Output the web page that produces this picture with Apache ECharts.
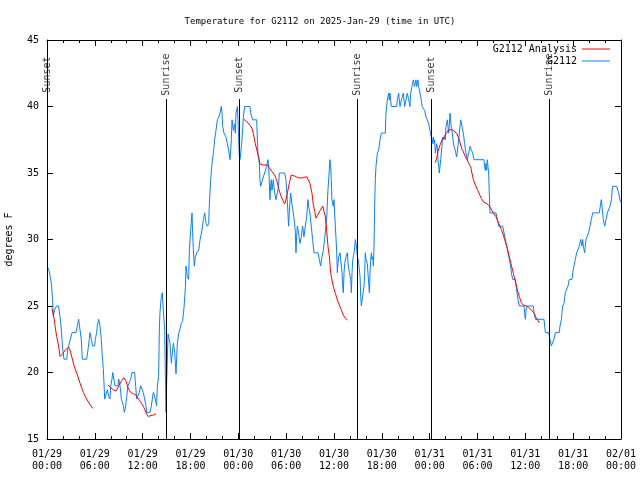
<!DOCTYPE html>
<html><head><meta charset="utf-8">
<script src="https://cdn.jsdelivr.net/npm/echarts@6/dist/echarts.min.js"></script>
<style>html,body{margin:0;padding:0;background:#fff}#c{width:640px;height:480px}</style>
</head><body><div id="c"></div>
<script>
// ---- data (hours since 2025-01-29 00:00 UTC, degrees F) ----
const titleText = 'Temperature for G2112 on 2025-Jan-29 (time in UTC)';
const xTickLabels = ['01/29\n00:00','01/29\n06:00','01/29\n12:00','01/29\n18:00','01/30\n00:00','01/30\n06:00','01/30\n12:00','01/30\n18:00','01/31\n00:00','01/31\n06:00','01/31\n12:00','01/31\n18:00','02/01\n00:00'];
const yTicks = [15,20,25,30,35,40,45];
const sunNames = ['Sunset','Sunrise','Sunset','Sunrise','Sunset','Sunrise'];
const sunTimes = [0.08,14.93,24.12,38.93,48.2,62.98];

const g2112 = [[0.0,28],[0.25,27.7],[0.4,27.2],[0.55,26.7],[0.7,25.5],[0.79,24.2],[0.95,24.7],[1.2,25],[1.46,25],[1.63,24.2],[1.76,23.5],[1.88,22.5],[1.97,21.7],[2.13,21],[2.47,21],[2.6,21.7],[2.72,22],[2.97,22],[3.14,23],[3.64,23],[3.8,23.5],[3.97,24],[4.14,23.2],[4.3,22.5],[4.43,21],[4.97,21],[5.14,21.7],[5.3,22.5],[5.39,23],[5.56,22.5],[5.72,22],[5.98,22],[6.06,22.5],[6.23,23],[6.31,23.5],[6.48,24],[6.65,23.5],[6.81,22.5],[6.9,21.5],[7.07,20.2],[7.19,18.7],[7.23,18],[7.48,18],[7.57,18.7],[7.73,18.2],[7.9,18],[7.99,19],[8.15,19.5],[8.24,20],[8.4,20],[8.53,19],[8.9,19],[9.0,19.5],[9.16,19],[9.33,18],[9.49,18],[9.58,17.5],[9.7,17],[9.87,17.5],[10.0,18.2],[10.16,19],[10.33,19],[10.5,19.5],[10.66,20],[10.99,20],[11.12,19],[11.25,18],[11.42,18],[11.58,18.5],[11.75,19],[12.0,19],[12.08,18.5],[12.25,18],[12.42,17.5],[12.5,17],[12.92,17],[13.09,17.5],[13.21,18],[13.34,18.5],[13.42,18.6],[13.59,18],[13.75,17.5],[13.84,19],[14.0,19.7],[14.09,23.2],[14.17,24.5],[14.34,25.7],[14.46,26],[14.59,24.7],[14.76,23.2],[14.84,20],[14.93,17],[15.01,19.2],[15.18,22.9],[15.43,22.2],[15.6,20.7],[15.85,22.2],[16.02,21.5],[16.18,19.9],[16.35,22.2],[16.52,22.9],[16.77,22.9],[16.85,23.7],[17.02,23.9],[17.19,24.9],[17.36,26.4],[17.44,28.0],[17.6,27.2],[17.77,27.0],[17.86,29.2],[18.02,30.7],[18.19,32.0],[18.27,30.5],[18.36,29.2],[18.48,28.0],[18.61,28.7],[18.78,29.0],[19.03,29.2],[19.2,30.0],[19.45,30.7],[19.61,31.5],[19.78,32.0],[19.95,31.2],[20.12,31.0],[20.28,31.2],[20.37,32.7],[20.53,34.5],[20.7,35.7],[20.87,36.5],[21.03,37.5],[21.2,38.2],[21.37,39.0],[21.54,39.2],[21.7,39.5],[21.87,40.0],[21.95,39.5],[22.04,38.5],[22.2,38.0],[22.37,38.0],[22.46,37.7],[22.62,37.2],[22.79,36.7],[22.96,36.0],[23.12,37.5],[23.21,39.0],[23.38,38.2],[23.54,38.7],[23.62,38.0],[23.71,39.5],[23.88,40.0],[23.96,39.0],[24.04,37.5],[24.13,36.2],[24.21,36.0],[24.3,36.5],[24.46,37.5],[24.63,39.2],[24.8,40.0],[25.46,40],[25.55,39.5],[25.79,39],[26.3,39],[26.38,37.7],[26.46,36.5],[26.63,35.7],[26.71,34.5],[26.8,34],[27.05,34],[27.13,34.7],[27.3,35],[27.47,35],[27.55,35.5],[27.72,36],[27.8,35.5],[27.88,34.5],[27.97,33],[28.05,34],[28.14,34.5],[28.22,33.7],[28.39,34.5],[28.55,33.5],[28.72,33],[28.89,33.5],[29.05,34],[29.14,35],[29.81,35],[29.97,34.5],[30.14,33],[30.22,32],[30.31,31],[30.39,32],[30.56,33.5],[30.72,32.7],[30.89,32],[31.06,31.2],[31.15,30.5],[31.23,29],[31.31,30.2],[31.4,31],[31.56,30.5],[31.73,29.7],[31.9,30.2],[32.06,31],[32.23,30.2],[32.4,31],[32.57,31.7],[32.73,33],[32.82,32.5],[32.98,32],[33.15,31],[33.32,30],[33.49,29],[33.99,29],[34.16,28.5],[34.32,28],[34.49,28.7],[34.66,29.2],[34.82,30],[34.99,31],[35.07,31.5],[35.24,33.7],[35.41,35.2],[35.49,36],[35.58,35.5],[35.66,34.5],[35.74,33],[35.91,32.5],[36.0,33],[36.08,32],[36.17,31],[36.26,30],[36.34,29],[36.42,27.5],[36.5,28.2],[36.59,28.7],[36.76,29],[36.84,28.5],[37.01,27.5],[37.09,26.5],[37.17,26],[37.26,27.5],[37.34,28.2],[37.51,28.7],[37.68,29],[37.76,28.2],[37.93,27.5],[38.1,27],[38.18,26],[38.26,27.5],[38.35,28.5],[38.52,29],[38.68,30],[38.77,29.7],[38.85,29.2],[38.93,28.7],[39.02,28.5],[39.1,28.2],[39.27,27.2],[39.35,25.7],[39.43,25],[39.68,25],[39.77,26.5],[39.85,27.5],[39.93,29],[40.02,28.5],[40.18,28.2],[40.35,26.7],[40.44,26],[40.52,27.5],[40.6,28.5],[40.69,29],[40.77,28.5],[40.86,28.7],[40.94,28],[41.02,29.5],[41.1,32.5],[41.18,34.5],[41.27,35.5],[41.43,36.5],[41.6,36.7],[41.77,37.5],[41.94,38],[42.44,38],[42.52,39.5],[42.69,40.5],[42.86,41],[42.94,40.5],[43.02,41],[43.19,40],[43.86,40],[43.94,40.5],[44.11,41],[44.19,40.5],[44.28,40],[44.45,40.5],[44.7,41],[44.86,40],[45.03,40],[45.2,41],[45.37,40.5],[45.53,40],[45.62,41],[45.78,41.5],[45.95,42],[46.11,41.5],[46.28,42],[46.36,41.5],[46.53,42],[46.62,41.5],[46.79,41],[46.95,40.5],[47.04,40],[47.2,40],[47.37,39.7],[47.54,39.2],[47.7,39],[47.87,38.7],[48.04,38.2],[48.2,37.7],[48.29,37.2],[48.46,37.7],[48.54,37.2],[48.62,37.5],[48.71,36.5],[48.88,37.2],[48.96,37],[49.04,36],[49.13,35.5],[49.21,35],[49.3,35],[49.38,36],[49.54,37],[49.63,37.7],[49.8,37.5],[49.88,37.7],[49.96,37.5],[50.05,38.5],[50.13,38.7],[50.21,39],[50.3,38.5],[50.38,38],[50.46,38.5],[50.55,39.5],[50.63,39],[50.71,38.5],[50.8,38.2],[50.88,37.7],[51.05,37],[51.21,36.7],[51.38,36.2],[51.55,37],[51.72,38],[51.89,39],[52.05,39],[52.22,38],[52.39,37.2],[52.55,36.5],[52.72,36],[52.89,36.5],[53.06,37],[53.22,37],[53.39,36.5],[53.56,36],[54.81,36],[54.89,35.5],[54.98,35.2],[55.06,35.7],[55.14,35.2],[55.23,36],[55.31,35.5],[55.4,35],[55.48,33.5],[55.57,32],[56.32,32],[56.49,31.5],[56.66,31],[57.16,31],[57.33,30.5],[57.49,30],[57.66,29.5],[57.83,29],[58.0,28.5],[58.16,28],[58.25,27.5],[58.41,27],[58.75,27],[58.91,26.2],[59.08,25.5],[59.25,25],[59.83,25],[59.91,24.5],[60.0,24],[60.08,24.7],[60.25,25],[61.0,25],[61.09,24.5],[61.26,24],[62.34,24],[62.42,23.5],[62.51,23],[62.93,23],[63.09,22.5],[63.26,22],[63.51,22],[63.6,22.5],[63.76,23],[64.26,23],[64.35,23.5],[64.52,24],[64.6,24.5],[64.68,25],[64.85,25.2],[65.02,26],[65.27,26],[65.35,26.5],[65.52,27],[65.85,27],[65.94,27.5],[66.1,28],[66.27,28.5],[66.44,29],[66.69,29],[66.77,29.5],[66.94,30],[67.11,29.5],[67.19,30],[67.27,29.5],[67.44,29],[67.52,29.5],[67.61,30],[67.78,30],[67.94,30.5],[68.11,31],[68.28,31.5],[68.45,32],[69.28,32],[69.45,32.7],[69.53,33],[69.62,32.5],[69.78,31.5],[69.95,31],[70.12,31.5],[70.29,32],[70.54,32],[70.62,32.5],[70.79,33],[70.87,33.5],[70.95,34],[71.46,34],[71.7,33.5],[71.87,33],[72,32.8]];

const analysis1 = [[0.63,24.8],[0.88,24.1],[0.96,23.7],[1.21,22.7],[1.46,22.0],[1.63,21.2],[1.8,21.35],[1.96,21.4],[2.3,21.7],[2.72,21.9],[2.88,21.7],[3.14,21.1],[3.47,20.35],[3.8,19.85],[4.14,19.2],[4.56,18.5],[4.97,18.0],[5.39,17.6],[5.73,17.3]];
const analysis2 = [[7.65,19.08],[7.9,18.9],[8.32,18.7],[8.66,18.6],[8.99,18.97],[9.33,19.35],[9.66,19.6],[9.92,19.35],[10.16,18.85],[10.5,18.5],[10.83,18.4],[11.17,18.3],[11.5,18.0],[11.84,17.7],[12.17,17.35],[12.42,16.97],[12.67,16.7],[12.92,16.7],[13.34,16.8],[13.67,16.9]];
const analysis3 = [[24.71,39.03],[25.04,38.86],[25.46,38.6],[25.71,38.36],[25.88,37.98],[26.13,37.2],[26.38,36.6],[26.63,35.97],[26.71,35.67],[27.13,35.6],[27.63,35.6],[27.88,35.4],[28.22,35.1],[28.55,34.85],[28.8,34.47],[29.05,33.84],[29.31,33.34],[29.56,32.97],[29.81,32.67],[29.97,32.97],[30.14,33.47],[30.39,34.2],[30.64,34.85],[30.81,34.97],[31.06,34.77],[31.4,34.67],[31.73,34.62],[32.15,34.65],[32.57,34.72],[32.82,34.72],[32.98,34.22],[33.24,33.47],[33.41,32.6],[33.58,32.1],[33.75,31.6],[33.91,31.8],[34.25,32.17],[34.58,32.52],[34.75,32.6],[34.92,31.7],[35.08,30.7],[35.25,29.46],[35.42,28.7],[35.59,27.45],[35.75,26.95],[35.92,26.45],[36.17,25.95],[36.42,25.45],[36.67,25.07],[36.92,24.7],[37.17,24.32],[37.43,24.07],[37.68,23.95]];
const analysis4 = [[48.71,35.78],[48.88,36.1],[49.04,36.6],[49.3,37.1],[49.54,37.48],[49.88,37.79],[50.13,38.04],[50.38,38.24],[50.63,38.36],[50.88,38.24],[51.13,38.11],[51.38,37.99],[51.55,37.74],[51.72,37.48],[51.89,37.1],[52.05,36.78],[52.22,36.6],[52.47,36.23],[52.72,35.98],[52.89,35.73],[53.14,35.48],[53.31,34.98],[53.48,34.5],[53.73,34.1],[53.98,33.77],[54.23,33.42],[54.48,33.09],[54.73,32.84],[55.07,32.72],[55.4,32.59],[55.65,32.47],[55.99,32.0],[56.32,31.71],[56.66,31.21],[56.99,30.76],[57.24,30.33],[57.49,29.83],[57.74,29.33],[57.99,28.7],[58.24,28.08],[58.5,27.45],[58.75,26.83],[59.0,26.2],[59.25,25.7],[59.5,25.25],[59.75,25.07],[60.0,25.0],[60.34,24.95],[60.59,24.82],[60.84,24.64],[61.09,24.45],[61.34,24.14],[61.59,23.89],[61.76,23.74]];

// ---- chart ----
const FONT = 'DejaVu Sans Mono';
const analysis = [].concat(analysis1, [['-','-']], analysis2, [['-','-']], analysis3, [['-','-']], analysis4);
const sunLabelY = 42.4, sunLineTop = 40.56;

const xCommon = {
  type: 'value', min: 0, max: 72, interval: 6,
  axisLine: {show: true, onZero: false, lineStyle: {color: '#000', width: 1}},
  axisTick: {show: true, inside: true, length: 6, lineStyle: {color: '#000'}},
  minorTick: {show: true, splitNumber: 3, length: 3, lineStyle: {color: '#000'}},
  splitLine: {show: false}, minorSplitLine: {show: false}
};
const yCommon = {
  type: 'value', min: 15, max: 45, interval: 5,
  axisLine: {show: true, onZero: false, lineStyle: {color: '#000', width: 1}},
  axisTick: {show: true, inside: true, length: 6, lineStyle: {color: '#000'}},
  splitLine: {show: false}
};
const legendCommon = {right: 30, align: 'right', icon: 'rect', itemWidth: 28, itemHeight: 1, itemGap: 0, padding: 0,
  textStyle: {fontFamily: FONT, fontSize: 10, color: '#000'}};

const chart = echarts.init(document.getElementById('c'), null, {renderer: 'canvas'});
chart.setOption({
  animation: false,
  backgroundColor: '#fff',
  title: {text: titleText, left: 'center', top: 12,
    textStyle: {fontFamily: FONT, fontSize: 9, fontWeight: 'normal', color: '#000'}},
  grid: {left: 47, right: 19, top: 40, bottom: 41, containLabel: false, outerBoundsMode: 'none'},
  legend: [
    Object.assign({}, legendCommon, {data: ['G2112 Analysis'], top: 44}),
    Object.assign({}, legendCommon, {data: ['G2112'], top: 56})
  ],
  xAxis: [
    Object.assign({}, xCommon, {position: 'bottom',
      axisLabel: {show: true, margin: 9, lineHeight: 12, fontFamily: FONT, fontSize: 10, color: '#000',
        formatter: v => xTickLabels[Math.round(v / 6)] || ''}}),
    Object.assign({}, xCommon, {position: 'top', axisLabel: {show: false}})
  ],
  yAxis: [
    Object.assign({}, yCommon, {position: 'left', name: 'degrees F', nameLocation: 'middle', nameGap: 33, nameRotate: 90,
      nameTextStyle: {fontFamily: FONT, fontSize: 10, color: '#000'},
      axisLabel: {show: true, margin: 8, fontFamily: FONT, fontSize: 10, color: '#000',
        formatter: v => yTicks.indexOf(v) >= 0 ? String(v) : ''}}),
    Object.assign({}, yCommon, {position: 'right', axisLabel: {show: false}})
  ],
  series: [
    {name: 'G2112 Analysis', type: 'line', xAxisIndex: 0, yAxisIndex: 0, data: analysis, symbol: 'none', showSymbol: false,
      connectNulls: false, lineStyle: {color: '#ff0000', width: 1}, itemStyle: {color: '#ff0000'}, z: 3},
    {name: 'G2112', type: 'line', xAxisIndex: 0, yAxisIndex: 0, data: g2112, symbol: 'none', showSymbol: false,
      lineStyle: {color: '#0a80ff', width: 1}, itemStyle: {color: '#0a80ff'}, z: 2},
    {name: 'sun', type: 'scatter', xAxisIndex: 0, yAxisIndex: 0, symbolSize: 0, silent: true, clip: false,
      data: sunTimes.map((t, i) => ({value: [t, sunLabelY], name: sunNames[i]})),
      label: {show: true, position: 'inside', rotate: 90, formatter: p => p.name,
        fontFamily: FONT, fontSize: 10, color: '#000'},
      markLine: {silent: true, symbol: ['none', 'none'], label: {show: false},
        lineStyle: {color: '#000', width: 1, type: 'solid'},
        data: sunTimes.map(t => [{coord: [t, 15]}, {coord: [t, sunLineTop]}])},
      z: 4}
  ]
});
</script></body></html>
